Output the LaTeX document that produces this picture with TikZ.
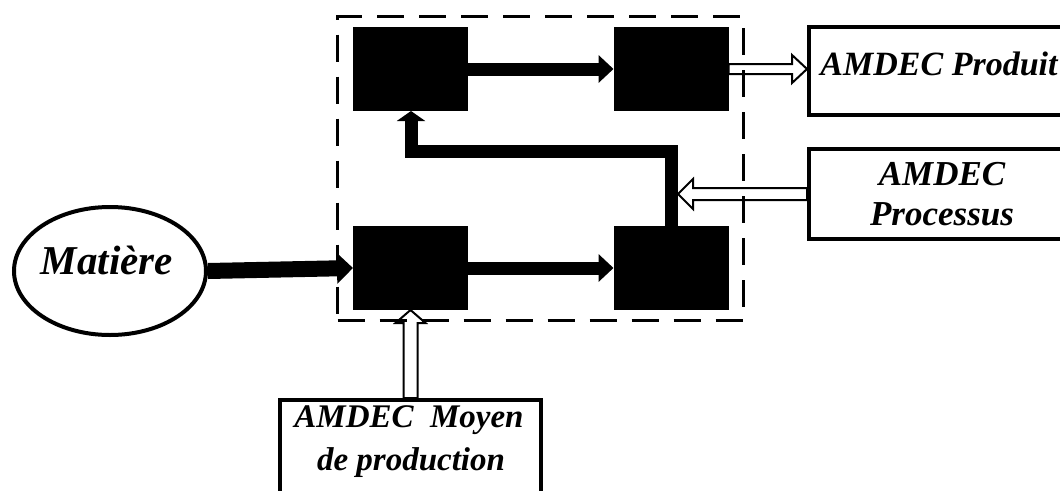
\documentclass[tikz,border=0pt]{standalone}
\usepackage{fontspec}
\setmainfont{Liberation Serif}
\usetikzlibrary{arrows.meta,calc,shapes.geometric}
\begin{document}
\begin{tikzpicture}[x=1pt,y=1pt,
 blk/.style={fill=black, draw=none, inner sep=0, outer sep=0, minimum width=115, minimum height=84},
 frm/.style={draw, line width=3pt, dash pattern=on 27pt off 15pt, inner sep=0, outer sep=0, minimum width=406, minimum height=304},
 obox/.style={draw, line width=4.5pt, fill=white, inner sep=0, outer sep=0},
 lbl/.style={font=\bfseries\itshape\fontsize{35}{40}\selectfont, inner sep=0, align=center},
 fat/.style={line width=13pt, -{Triangle[length=15pt,width=27pt]}},
 hollow/.style={draw, line width=2pt, fill=white, line join=miter},
]
\useasboundingbox (0,0) rectangle (1060,-490);
\clip (0,0) rectangle (1060,-490);
\fill[white] (0,0) rectangle (1060,-490);

% black blocks
\node[blk] (b1) at (410.5,-69) {};
\node[blk] (b2) at (671,-69) {};
\node[blk] (b3) at (410.5,-268) {};
\node[blk] (b4) at (671,-268) {};

% outside boxes
\node[ellipse, draw, line width=4pt, minimum width=192, minimum height=128, inner sep=0] (mat) at (110,-271) {};
\node[lbl, font=\bfseries\itshape\fontsize{41}{46}\selectfont, anchor=base] (matT) at (107,-274) {Matière};

\node[obox, minimum width=276, minimum height=88] (prod) at (947,-71) {};
\node[lbl, font=\bfseries\itshape\fontsize{34}{40}\selectfont, anchor=base] (prodT) at (939,-75) {AMDEC Produit};

\node[obox, minimum width=266, minimum height=90] (proc) at (942,-194) {};
\node[lbl, anchor=base] (procT1) at (942,-185) {AMDEC};
\node[lbl, anchor=base] (procT2) at (942,-225) {Processus};

\node[obox, minimum width=261, minimum height=140] (moy) at (410.5,-470) {};
\node[lbl, font=\bfseries\itshape\fontsize{33}{40}\selectfont, anchor=base] (moyT1) at (409,-427) {AMDEC\ \ Moyen};
\node[lbl, font=\bfseries\itshape\fontsize{33}{40}\selectfont, anchor=base] (moyT2) at (411,-470) {de production};

% hollow arrows
\draw[hollow] let \p1=(b2.east), \p2=(prod.west) in
  (\x1,\y1+5pt) -- (\x2-17pt,\y1+5pt) -- (\x2-17pt,\y1+14pt) -- (\x2-2pt,\y1) --
  (\x2-17pt,\y1-14pt) -- (\x2-17pt,\y1-5pt) -- (\x1,\y1-5pt) -- cycle;

\coordinate (fbR) at (671,-151);
\coordinate (fbL) at (411,-151);

\draw[hollow] let \p1=(proc.west), \p2=(fbR) in
  (\x1-2pt,\y1+6pt) -- (\x2+22pt,\y1+6pt) -- (\x2+22pt,\y1+15pt) -- (\x2+7pt,\y1) --
  (\x2+22pt,\y1-15pt) -- (\x2+22pt,\y1-6pt) -- (\x1-2pt,\y1-6pt) -- cycle;

\draw[hollow] let \p1=(moy.north), \p2=(b3.south) in
  (\x1-7pt,\y1+2pt) -- (\x1-7pt,\y2-13pt) -- (\x1-15pt,\y2-13pt) -- (\x1,\y2) --
  (\x1+15pt,\y2-13pt) -- (\x1+7pt,\y2-13pt) -- (\x1+7pt,\y1+2pt) -- cycle;

% dashed frame
\node[frm] (frame) at (540.5,-168.5) {};

% black arrows
\draw[fat] (b1.east) -- (b2.west);
\draw[fat] (b3.east) -- (b4.west);
\draw[line width=16pt, -{Triangle[length=16pt,width=30pt]}] (mat.east) -- (b3.west);
\draw[line width=13pt, line join=miter, -{Triangle[length=10pt,width=28pt]}]
  (b4.north -| fbR) -- (fbR) -- (fbL) -- (b1.south -| fbL);
\end{tikzpicture}
\end{document}
